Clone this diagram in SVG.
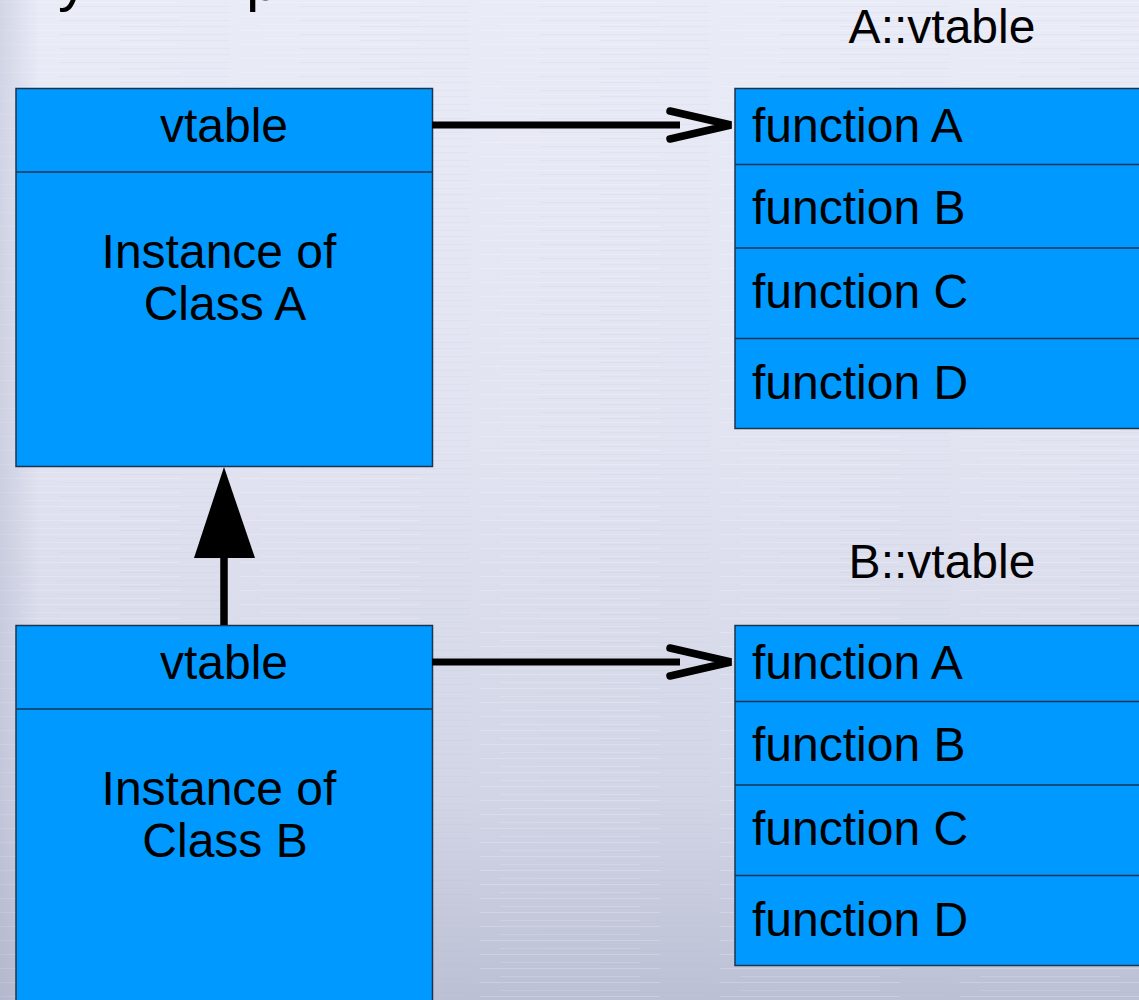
<svg xmlns="http://www.w3.org/2000/svg" width="1139" height="1000" viewBox="0 0 1139 1000">
  <defs>
    <linearGradient id="bg" x1="0" y1="0" x2="0" y2="1">
      <stop offset="0" stop-color="#e9ebf7"/>
      <stop offset="0.45" stop-color="#e1e3f1"/>
      <stop offset="0.8" stop-color="#d2d5e6"/>
      <stop offset="1" stop-color="#bcc0d4"/>
    </linearGradient>
    <linearGradient id="edge" x1="0" y1="0" x2="1" y2="0">
      <stop offset="0" stop-color="#9ea3bd" stop-opacity="0.3"/>
      <stop offset="1" stop-color="#9ea3bd" stop-opacity="0"/>
    </linearGradient>
    <pattern id="brush" width="240" height="14" patternUnits="userSpaceOnUse">
      <rect x="0" y="2" width="180" height="1" fill="#ffffff" opacity="0.2"/>
      <rect x="60" y="6" width="170" height="1" fill="#b9bdd2" opacity="0.12"/>
      <rect x="20" y="10" width="140" height="1" fill="#ffffff" opacity="0.15"/>
      <rect x="120" y="12" width="110" height="1" fill="#aeb3ca" opacity="0.1"/>
    </pattern>
    <style>
      text { font-family: "Liberation Sans", Arial, sans-serif; fill: #000; }
      .box { fill: #0099ff; stroke: #1c3450; stroke-width: 1.5; }
      .div { stroke: #1c3450; stroke-width: 1.5; }
      .lbl { font-size: 48px; }
      .mid { text-anchor: middle; }
      .link { stroke: #000; stroke-width: 7; fill: none; }
      .head { stroke: #000; stroke-width: 7.5; fill: none; stroke-linecap: round; stroke-linejoin: miter; }
    </style>
  </defs>

  <!-- brushed-metal backdrop -->
  <rect width="1139" height="1000" fill="url(#bg)"/>
  <rect width="1139" height="1000" fill="url(#brush)"/>
  <rect width="40" height="1000" fill="url(#edge)"/>

  <!-- slide title, mostly above the top edge -->
  <g id="title" font-size="60">
    <text x="58" y="0">y</text>
    <text x="246" y="0">p</text>
  </g>

  <!-- instance of class A -->
  <g id="instanceA">
    <rect class="box" x="16" y="88.5" width="416.5" height="378"/>
    <line class="div" x1="16" y1="172" x2="432.5" y2="172"/>
    <text class="lbl mid" x="224" y="142">vtable</text>
    <text class="lbl mid" x="219" y="268">Instance of</text>
    <text class="lbl mid" x="225" y="320">Class A</text>
  </g>

  <!-- instance of class B -->
  <g id="instanceB">
    <rect class="box" x="16" y="625.5" width="416.5" height="380"/>
    <line class="div" x1="16" y1="709" x2="432.5" y2="709"/>
    <text class="lbl mid" x="224" y="679">vtable</text>
    <text class="lbl mid" x="219" y="805">Instance of</text>
    <text class="lbl mid" x="225" y="857">Class B</text>
  </g>

  <!-- A::vtable -->
  <g id="vtableA">
    <text class="lbl mid" x="942" y="43">A::vtable</text>
    <rect class="box" x="735" y="88.5" width="410" height="340"/>
    <line class="div" x1="735" y1="164.5" x2="1145" y2="164.5"/>
    <line class="div" x1="735" y1="248" x2="1145" y2="248"/>
    <line class="div" x1="735" y1="338.5" x2="1145" y2="338.5"/>
    <text class="lbl" x="752" y="142">function A</text>
    <text class="lbl" x="752" y="224">function B</text>
    <text class="lbl" x="752" y="308">function C</text>
    <text class="lbl" x="752" y="399">function D</text>
  </g>

  <!-- B::vtable -->
  <g id="vtableB">
    <text class="lbl mid" x="942" y="578">B::vtable</text>
    <rect class="box" x="735" y="625.5" width="410" height="340"/>
    <line class="div" x1="735" y1="701.5" x2="1145" y2="701.5"/>
    <line class="div" x1="735" y1="785" x2="1145" y2="785"/>
    <line class="div" x1="735" y1="875.5" x2="1145" y2="875.5"/>
    <text class="lbl" x="752" y="679">function A</text>
    <text class="lbl" x="752" y="761">function B</text>
    <text class="lbl" x="752" y="845">function C</text>
    <text class="lbl" x="752" y="936">function D</text>
  </g>

  <!-- connectors -->
  <g id="connectors">
    <!-- vtable pointers -->
    <line class="link" x1="432" y1="125" x2="680" y2="125"/>
    <polyline class="head" points="670,111 731,125 670,139"/>
    <line class="link" x1="432" y1="662" x2="680" y2="662"/>
    <polyline class="head" points="670,648 731,662 670,676"/>
    <!-- inheritance: B derives from A -->
    <line x1="224" y1="625" x2="224" y2="555" stroke="#000" stroke-width="7.5"/>
    <polygon points="224,467 194,558 255,558" fill="#000"/>
  </g>
</svg>
